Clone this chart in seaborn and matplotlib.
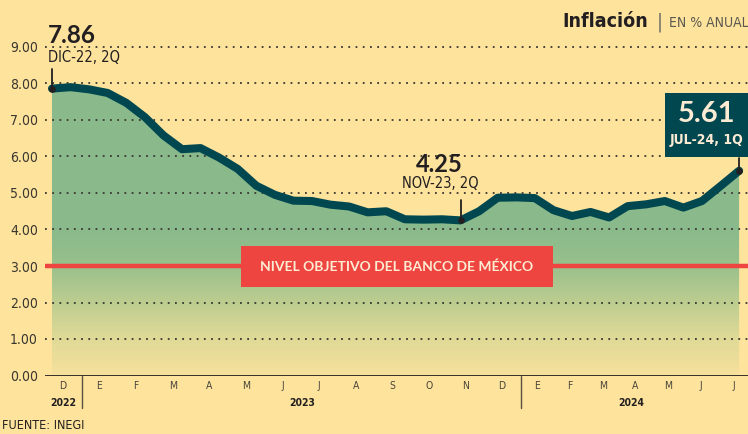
import numpy as np
import pandas as pd
import matplotlib
matplotlib.use("Agg")
import matplotlib.pyplot as plt
from matplotlib import font_manager
from matplotlib.colors import LinearSegmentedColormap
from matplotlib.patches import Rectangle
import seaborn as sns

# inflacion anual quincenal, dic-22 2Q a jul-24 1Q
quincenas = [
    "DIC-22, 2Q",
    "ENE-23, 1Q", "ENE-23, 2Q", "FEB-23, 1Q", "FEB-23, 2Q", "MAR-23, 1Q", "MAR-23, 2Q",
    "ABR-23, 1Q", "ABR-23, 2Q", "MAY-23, 1Q", "MAY-23, 2Q", "JUN-23, 1Q", "JUN-23, 2Q",
    "JUL-23, 1Q", "JUL-23, 2Q", "AGO-23, 1Q", "AGO-23, 2Q", "SEP-23, 1Q", "SEP-23, 2Q",
    "OCT-23, 1Q", "OCT-23, 2Q", "NOV-23, 1Q", "NOV-23, 2Q", "DIC-23, 1Q", "DIC-23, 2Q",
    "ENE-24, 1Q", "ENE-24, 2Q", "FEB-24, 1Q", "FEB-24, 2Q", "MAR-24, 1Q", "MAR-24, 2Q",
    "ABR-24, 1Q", "ABR-24, 2Q", "MAY-24, 1Q", "MAY-24, 2Q", "JUN-24, 1Q", "JUN-24, 2Q",
    "JUL-24, 1Q",
]
inflacion = [
    7.86,
    7.90, 7.84, 7.74, 7.47, 7.08, 6.58,
    6.20, 6.23, 5.97, 5.66, 5.20, 4.95,
    4.79, 4.78, 4.68, 4.63, 4.47, 4.50,
    4.28, 4.27, 4.28, 4.25, 4.50, 4.87,
    4.88, 4.86, 4.53, 4.37, 4.48, 4.33,
    4.64, 4.69, 4.78, 4.60, 4.78, 5.19,
    5.61,
]
meses = ["D", "E", "F", "M", "A", "M", "J", "J", "A", "S", "O", "N", "D",
         "E", "F", "M", "A", "M", "J", "J"]
anios = ["2022", "2023", "2024"]
meta_banxico = 3.0
destacados = [0, 22, 37]  # puntos anotados

BG = "#FDE39C"
VERDE = "#8ABA8B"
LINEA = "#004750"
ROJO = "#EE4540"
CREMA = "#FDEBD3"
TEXTO = "#231F20"

sns.set_theme(style="white")
names = {f.name for f in font_manager.fontManager.ttflist}
BOLD = "Lato" if "Lato" in names else "DejaVu Sans"
plt.rcParams["font.family"] = ["DejaVu Sans"]
plt.rcParams["font.stretch"] = "condensed"

df = pd.DataFrame({"q": np.arange(len(inflacion)), "inflacion": inflacion, "etiqueta": quincenas})

fig = plt.figure(figsize=(7.48, 4.34), dpi=100)
fig.patch.set_facecolor(BG)
ax = fig.add_axes([45 / 748, (434 - 375.5) / 434, (752 - 45) / 748, 9.5 * 36.5 / 434])
ax.set_facecolor(BG)

# relleno con degradado
poly = ax.fill_between(df["q"], df["inflacion"], 0, facecolor="none", edgecolor="none")
cmap = LinearSegmentedColormap.from_list(
    "grad", [(0.0, "#F6E09C"), (1 / 9.5, "#DFDA97"), (2 / 9.5, "#BCCD90"),
             (3 / 9.5, "#98C08C"), (4 / 9.5, VERDE), (1.0, VERDE)])
grad = np.linspace(0, 9.5, 256).reshape(-1, 1)
im = ax.imshow(grad, extent=[0, len(inflacion) - 1, 0, 9.5], origin="lower",
               aspect="auto", cmap=cmap, vmin=0, vmax=9.5, zorder=1)
im.set_clip_path(poly.get_paths()[0], transform=ax.transData)

for v in range(1, 10):
    ax.axhline(v, color="#3a3630", lw=1.3, ls=(0, (1, 3)), zorder=2)
ax.axhline(meta_banxico, color=ROJO, lw=3.2, zorder=3)

sns.lineplot(data=df, x="q", y="inflacion", color=LINEA, lw=5.8, ax=ax, zorder=4)
ax.lines[-1].set_solid_joinstyle("round")
ax.lines[-1].set_solid_capstyle("round")

ax.axhline(0, color=TEXTO, lw=2, zorder=5)

ax.set_xlim((45 - 52) / 18.57, (752 - 52) / 18.57)
ax.set_ylim(0, 9.5)
ax.set_xlabel("")
ax.set_ylabel("")
sns.despine(ax=ax, left=True, bottom=True)

ax.set_yticks(range(0, 10))
ax.set_yticklabels([f"{v:.2f}" for v in range(0, 10)], fontsize=10, color="#3a3630")
ax.tick_params(axis="y", length=0, pad=5)

# meses
pos = list(np.linspace(0.59, 24.23, 13)) + list(np.linspace(26.12, 36.73, 7))
ax.set_xticks(pos)
ax.set_xticklabels(meses, fontsize=7.5, color="#4a453c")
ax.tick_params(axis="x", length=0, pad=4)
for x, a in zip([0.59, 13.46, 31.2], anios):
    ax.text(x, -0.62, a, ha="center", va="top", fontsize=7.5, fontweight="bold",
            color=TEXTO, clip_on=False)
for x in [1.62, 25.26]:
    ax.plot([x, x], [0, -0.9], color="#5a5040", lw=1, clip_on=False, zorder=5)

# etiqueta meta
ax.add_patch(Rectangle((10.18, 2.42), 16.8, 1.13, facecolor=ROJO, edgecolor="none", zorder=6))
ax.text(18.58, 2.99, "NIVEL OBJETIVO DEL BANCO DE MÉXICO", ha="center", va="center",
        fontsize=10, fontweight="bold", color=CREMA, family=[BOLD, "DejaVu Sans"], zorder=7)

# anotaciones
sel = df.loc[destacados]
ax.scatter(sel["q"], sel["inflacion"], s=14, color=TEXTO, zorder=8)
for q, v, d in zip(sel["q"], sel["inflacion"], [0.55, 0.57, 0.36]):
    ax.plot([q, q], [v, v + d], color=TEXTO, lw=1.3, zorder=8)

ax.text(-0.22, 9.11, f"{inflacion[0]:.2f}", ha="left", va="baseline", fontsize=17.5,
        fontweight="bold", color=TEXTO, family=[BOLD, "DejaVu Sans"])
ax.text(-0.22, 8.59, quincenas[0], ha="left", va="baseline", fontsize=10.5, color=TEXTO)
ax.text(20.84, 5.575, f"{inflacion[22]:.2f}", ha="center", va="baseline", fontsize=17,
        fontweight="bold", color=TEXTO, family=[BOLD, "DejaVu Sans"])
ax.text(20.9, 5.14, quincenas[22], ha="center", va="baseline", fontsize=10.5, color=TEXTO)

ax.add_patch(Rectangle((33.0, 5.99), 6, 1.75, facecolor=LINEA, edgecolor="none", zorder=6,
                       clip_on=False))
ax.text(35.27, 6.95, f"{inflacion[-1]:.2f}", ha="center", va="baseline", fontsize=21,
        fontweight="bold", color=CREMA, family=[BOLD, "DejaVu Sans"], zorder=7)
ax.text(35.27, 6.34, quincenas[-1], ha="center", va="baseline", fontsize=10,
        fontweight="bold", color=CREMA, zorder=7)

# titulo y fuente
fig.text(648 / 748, 1 - 27 / 434, "Inflación", ha="right", va="baseline", fontsize=14,
         fontweight="bold", color=TEXTO)
fig.text(660 / 748, 1 - 28 / 434, "|", ha="center", va="baseline", fontsize=14, color="#6d6a62")
fig.text(669 / 748, 1 - 27 / 434, "EN % ANUAL", ha="left", va="baseline", fontsize=10,
         color="#5b5850")
fig.text(2 / 748, 2 / 434, "FUENTE: INEGI", ha="left", va="bottom", fontsize=9,
         color=TEXTO)

fig.savefig("out.png", dpi=100, facecolor=BG)
